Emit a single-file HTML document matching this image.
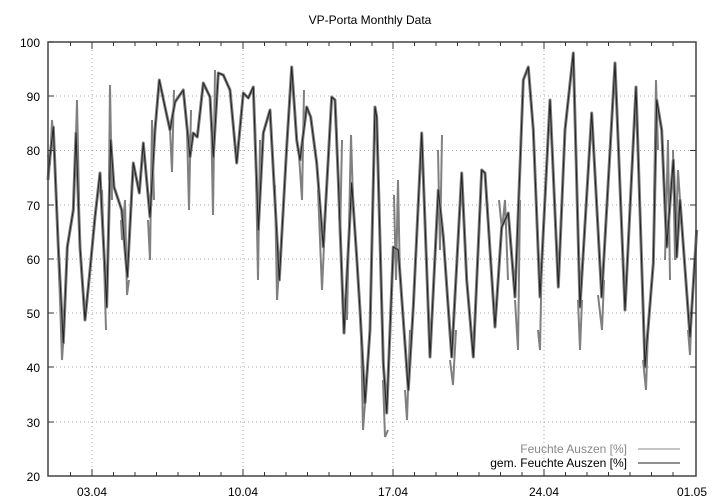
<!DOCTYPE html>
<html><head><meta charset="utf-8"><style>
html,body{margin:0;padding:0;background:#fff;}
svg{display:block;font-family:"Liberation Sans",sans-serif;}
</style></head><body>
<svg width="720" height="504" viewBox="0 0 720 504" xmlns="http://www.w3.org/2000/svg">
<rect width="720" height="504" fill="#fff"/>
<text x="370" y="24" font-size="12" text-anchor="middle" fill="#000">VP-Porta Monthly Data</text>
<g stroke="#aaa" stroke-width="1" stroke-dasharray="1,3">
<line x1="48" y1="96" x2="696" y2="96"/><line x1="48" y1="150.5" x2="696" y2="150.5"/>
<line x1="48" y1="205" x2="696" y2="205"/><line x1="48" y1="259" x2="696" y2="259"/>
<line x1="48" y1="313" x2="696" y2="313"/><line x1="48" y1="367" x2="696" y2="367"/>
<line x1="48" y1="422" x2="696" y2="422"/>
<line x1="92" y1="42" x2="92" y2="476"/><line x1="243" y1="42" x2="243" y2="476"/>
<line x1="393" y1="42" x2="393" y2="476"/><line x1="544" y1="42" x2="544" y2="476"/>
</g>
<g font-size="12" fill="#000" text-anchor="end">
<text x="40" y="47">100</text><text x="40" y="101">90</text><text x="40" y="155">80</text>
<text x="40" y="210">70</text><text x="40" y="264">60</text><text x="40" y="318">50</text>
<text x="40" y="372">40</text><text x="40" y="427">30</text><text x="40" y="481">20</text>
</g>
<g font-size="12" fill="#000" text-anchor="middle">
<text x="92" y="496">03.04</text><text x="243" y="496">10.04</text><text x="393" y="496">17.04</text>
<text x="544" y="496">24.04</text><text x="692" y="496">01.05</text>
</g>
<polyline fill="none" stroke="#808080" stroke-width="3" stroke-linejoin="round" points="48,180 49.3,163 53.3,127 58.3,247 63.3,343 67.3,247 73.3,210 76,133 80,247 85,320 90,270 95,217 100,173 106.7,307 110.7,140 114,187 121.7,210 127.3,277 133.3,163 139.3,193 143.3,143 150,217 155,130 159.3,80 165,107 170,130 175,102 183.3,90 190,157 193.3,133 197.3,137 203.3,83 210,97 213.3,157 218.3,73 223.3,75 230,90 236.7,163 243.3,93 248.3,98 253.3,87 258.3,230 263.3,133 270,110 279.3,280 286.7,147 291.7,67 296.7,140 300,160 306.7,107 310.7,117 316.7,163 323.3,247 331.7,97 335,100 338.3,180 344,333 351.7,183 356.7,257 360,310 365,403 370,330 375,107 376.7,117 383.3,363 386.7,413 393.3,247 398.3,250 408.3,390 413.3,307 421.7,133 430,357 438.3,190 443.3,237 451.7,357 461.7,173 466.7,280 473.3,357 481.7,170 485,173 495,327 501.7,227 508.3,213 515,297 523.3,80 528.3,67 533.3,130 540,297 550,100 558.3,287 565,130 573.3,53 580,307 591.7,113 601.7,297 615,63 625,310 636,87 645,367 653.3,263 656.7,100 661.7,130 666.7,247 673.3,160 676.7,257 680,200 690,337 696.7,230"/>
<g fill="none" stroke="#808080" stroke-width="2">
<polyline points="48,155 50,165 52,120 54,150"/><polyline points="58,250 60,300 62,360 64,330"/>
<polyline points="76,135 77,100 79,200"/><polyline points="102,190 104,260 106,330"/>
<polyline points="109,180 110,85 112,200"/><polyline points="121,220 122,240 125,200 127,295 129,280"/>
<polyline points="148,220 150,260 152,120 154,200"/><polyline points="170,130 172,172 174,90"/>
<polyline points="187,130 189,210 191,110"/><polyline points="211,110 213,215 215,70"/>
<polyline points="255,120 258,280 260,140"/><polyline points="275,185 277,300 279,270"/>
<polyline points="299,155 302,200 304,90"/><polyline points="318,190 322,290 326,200"/>
<polyline points="336,110 340,240 342,140"/><polyline points="347,320 351,135 353,200"/>
<polyline points="361,330 363,430 366,390"/><polyline points="383,380 385,437 388,430"/>
<polyline points="394,195 396,280 398,180 400,280"/><polyline points="405,390 407,420 410,330"/>
<polyline points="438,150 440,250 442,135"/><polyline points="450,360 453,385 456,330"/>
<polyline points="499,200 502,230 505,200 508,280"/><polyline points="515,300 518,350 520,200"/>
<polyline points="538,330 540,350 542,250"/><polyline points="578,300 580,350 582,300"/>
<polyline points="598,295 602,330 604,280"/><polyline points="643,360 646,390 648,330"/>
<polyline points="654,200 656,80 658,150"/><polyline points="665,260 668,140 670,280"/>
<polyline points="673,150 675,260 678,170 680,200"/><polyline points="688,330 690,355 692,300"/>
</g>
<polyline fill="none" stroke="#222" stroke-width="1" stroke-linejoin="round" points="48,180 49.3,163 53.3,127 58.3,247 63.3,343 67.3,247 73.3,210 76,133 80,247 85,320 90,270 95,217 100,173 106.7,307 110.7,140 114,187 121.7,210 127.3,277 133.3,163 139.3,193 143.3,143 150,217 155,130 159.3,80 165,107 170,130 175,102 183.3,90 190,157 193.3,133 197.3,137 203.3,83 210,97 213.3,157 218.3,73 223.3,75 230,90 236.7,163 243.3,93 248.3,98 253.3,87 258.3,230 263.3,133 270,110 279.3,280 286.7,147 291.7,67 296.7,140 300,160 306.7,107 310.7,117 316.7,163 323.3,247 331.7,97 335,100 338.3,180 344,333 351.7,183 356.7,257 360,310 365,403 370,330 375,107 376.7,117 383.3,363 386.7,413 393.3,247 398.3,250 408.3,390 413.3,307 421.7,133 430,357 438.3,190 443.3,237 451.7,357 461.7,173 466.7,280 473.3,357 481.7,170 485,173 495,327 501.7,227 508.3,213 515,297 523.3,80 528.3,67 533.3,130 540,297 550,100 558.3,287 565,130 573.3,53 580,307 591.7,113 601.7,297 615,63 625,310 636,87 645,367 653.3,263 656.7,100 661.7,130 666.7,247 673.3,160 676.7,257 680,200 690,337 696.7,230"/>
<rect x="447" y="438" width="246" height="34" fill="#fff" fill-opacity="0"/>
<text x="627" y="453" font-size="12" text-anchor="end" fill="#888">Feuchte Auszen [%]</text>
<line x1="638" y1="449" x2="680" y2="449" stroke="#888" stroke-width="1"/>
<text x="627" y="467" font-size="12" text-anchor="end" fill="#000">gem. Feuchte Auszen [%]</text>
<line x1="638" y1="463" x2="680" y2="463" stroke="#222" stroke-width="1"/>
<g stroke="#333" stroke-width="1">
<path d="M48,42V476H696V42Z" fill="none" stroke="#444" stroke-width="1.5"/>
<path d="M48,42h6M48,96h6M48,150.5h6M48,205h6M48,259h6M48,313h6M48,367h6M48,422h6M696,96h-6M696,150.5h-6M696,205h-6M696,259h-6M696,313h-6M696,367h-6M696,422h-6"/>
<path d="M70.5,476v-4M92,476v-7M113.5,476v-4M135,476v-4M156.5,476v-4M178,476v-4M199.5,476v-4M221,476v-4M243,476v-7M264.5,476v-4M286,476v-4M307.5,476v-4M329,476v-4M350.5,476v-4M372,476v-4M393,476v-7M414.5,476v-4M436,476v-4M457.5,476v-4M479,476v-4M500.5,476v-4M522,476v-4M544,476v-7M565.5,476v-4M587,476v-4M608.5,476v-4M630,476v-4M651.5,476v-4M673,476v-4"/>
<path d="M70.5,42v4M92,42v7M113.5,42v4M135,42v4M156.5,42v4M178,42v4M199.5,42v4M221,42v4M243,42v7M264.5,42v4M286,42v4M307.5,42v4M329,42v4M350.5,42v4M372,42v4M393,42v7M414.5,42v4M436,42v4M457.5,42v4M479,42v4M500.5,42v4M522,42v4M544,42v7M565.5,42v4M587,42v4M608.5,42v4M630,42v4M651.5,42v4M673,42v4"/>
</g>
</svg>
</body></html>
